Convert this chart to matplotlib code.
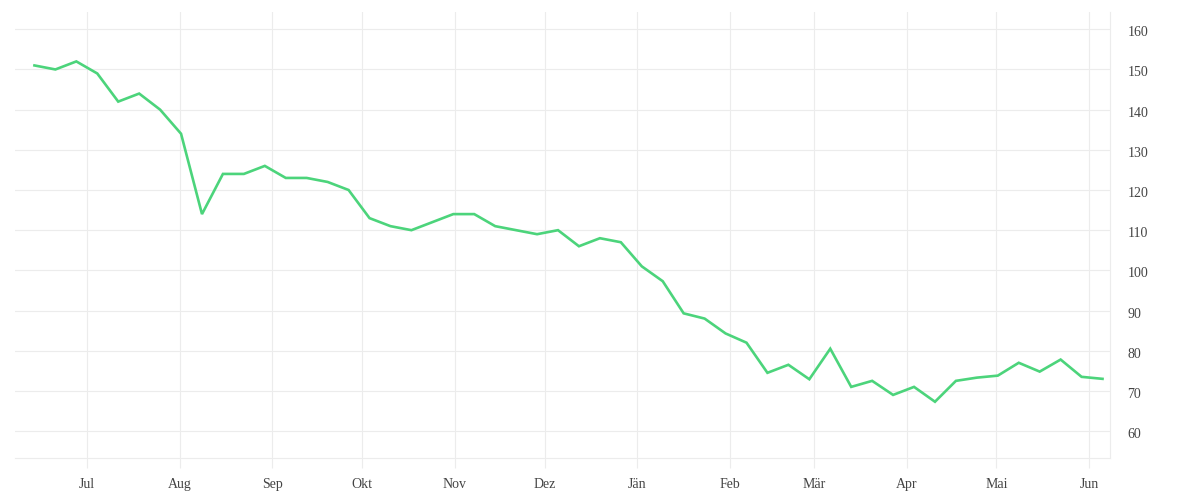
import numpy as np
import pandas as pd
import matplotlib
matplotlib.use("Agg")
import matplotlib.pyplot as plt
import matplotlib.transforms as mtransforms

# weekly values
start_date = "2022-06-13 12:00"
values = [
    151, 150, 152, 149, 142, 144, 140, 134, 114, 124,
    124, 126, 123, 123, 122, 120, 113, 111, 110, 112,
    114, 114, 111, 110, 109, 110, 106, 108, 107, 101,
    97.3, 89.3, 88, 84.3, 82, 74.5, 76.5, 72.9, 80.5, 71,
    72.5, 69, 71, 67.3, 72.5, 73.3, 73.8, 77, 74.8, 77.8,
    73.5, 73,
]
month_labels = ["Jul", "Aug", "Sep", "Okt", "Nov", "Dez",
                "Jän", "Feb", "Mär", "Apr", "Mai", "Jun"]
month_starts = pd.date_range("2022-07-01", periods=12, freq="MS")
y_ticks = list(range(60, 161, 10))

dates = pd.date_range(start_date, periods=len(values), freq="7D")

GRID = "#ececec"
TEXT = "#444444"
LINE = "#4cd47b"

fig = plt.figure(figsize=(12, 5), dpi=100)
ax = fig.add_axes([15 / 1200, 42 / 500, 1095 / 1200, 446 / 500])

ax.plot(dates, values, color=LINE, linewidth=1.9, solid_joinstyle="miter", zorder=3)

ax.set_xlim(pd.Timestamp("2022-06-07"), pd.Timestamp("2023-06-08"))
ax.set_ylim(53.3, 164.3)

ax.set_xticks(month_starts)
ax.set_xticklabels(month_labels)
ax.set_yticks(y_ticks)

ax.yaxis.tick_right()
ax.tick_params(axis="y", length=0, pad=12.5, labelsize=10, labelcolor=TEXT)
ax.tick_params(axis="x", length=7.2, width=0.8, color=GRID, pad=7, labelsize=10, labelcolor=TEXT)
shift = mtransforms.ScaledTranslation(0, -2 / 100, fig.dpi_scale_trans)
for lbl in ax.get_xticklabels() + ax.get_yticklabels():
    lbl.set_family(["Liberation Serif", "DejaVu Serif"])
for lbl in ax.get_yticklabels():
    lbl.set_transform(lbl.get_transform() + shift)

ax.grid(True, color=GRID, linewidth=0.8)
ax.set_axisbelow(True)

for side in ("top", "left"):
    ax.spines[side].set_visible(False)
for side in ("bottom", "right"):
    ax.spines[side].set_color(GRID)
    ax.spines[side].set_linewidth(0.8)

fig.savefig("out.png", dpi=100, facecolor="white")
